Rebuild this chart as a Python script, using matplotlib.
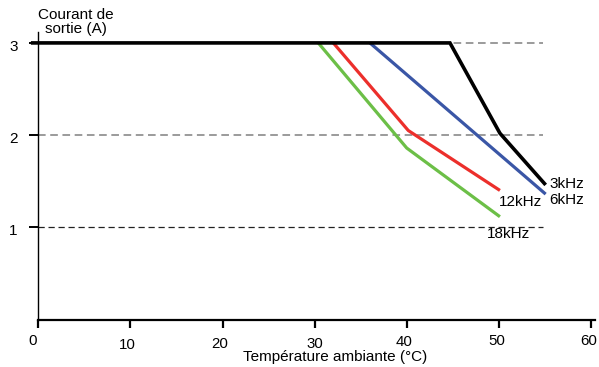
import matplotlib
matplotlib.use("Agg")
import matplotlib.pyplot as plt

plt.rcParams['font.family'] = ['Liberation Sans', 'DejaVu Sans']

# Data
series_names = ["3kHz", "6kHz", "12kHz", "18kHz"]
x_3k = [-0.8, 44.65, 50.07, 55.03]
y_3k = [3.0, 3.0, 2.02, 1.46]
x_6k = [35.97, 55.03]
y_6k = [3.0, 1.36]
x_12k = [32.0, 40.13, 50.07]
y_12k = [3.0, 2.05, 1.40]
x_18k = [30.37, 39.96, 50.07]
y_18k = [3.0, 1.86, 1.115]
x_ticks = [0, 10, 20, 30, 40, 50, 60]
x_ticklabels = ["0", "10", "20", "30", "40", "50", "60"]
y_ticks = [1, 2, 3]
y_ticklabels = ["1", "2", "3"]
ref_levels = [3, 2, 1]
ref_end = 54.74

fig = plt.figure(figsize=(5.99, 3.67), dpi=100)
ax = fig.add_axes([0.0639, 0.1294, 0.9297, 0.7838])
ax.set_xlim(0, 60.4)
ax.set_ylim(0, 3.12)

for s in ["top", "right"]:
    ax.spines[s].set_visible(False)
ax.spines["left"].set_linewidth(1.0)
ax.spines["bottom"].set_linewidth(1.6)

# reference dashed lines
ref_styles = {3: ("#808080", 1.1), 2: ("#808080", 1.1), 1: ("#222222", 0.9)}
for lvl in ref_levels:
    c, lw = ref_styles[lvl]
    ax.plot([0, ref_end], [lvl, lvl], color=c, lw=lw, dashes=(5, 3), zorder=1)

ax.plot(x_18k, y_18k, color="#6cbf47", lw=2.3, solid_capstyle="butt", zorder=2)
ax.plot(x_12k, y_12k, color="#ec2f2b", lw=2.3, solid_capstyle="butt", zorder=2)
ax.plot(x_6k, y_6k, color="#3a56a6", lw=2.3, solid_capstyle="butt", zorder=2)
ax.plot(x_3k, y_3k, color="black", lw=2.6, solid_capstyle="butt", zorder=3,
        clip_on=False, solid_joinstyle="miter")

# ticks
ax.set_xticks(x_ticks)
ax.set_xticklabels([])
ax.tick_params(axis="x", direction="out", length=6, width=1.6, color="black")
ax.set_yticks(y_ticks)
ax.set_yticklabels([])
ax.tick_params(axis="y", direction="out", length=6.5, width=1.4, color="black")

# x tick labels (staggered positions as in reference)
xl_dx = [-5.3, -2.7, -2.7, -0.1, -2.9, -2.5, -2.6]
xl_y = [340.7, 345.0, 344.3, 344.0, 341.7, 340.7, 340.7]
for t, lab, dx, yp in zip(x_ticks, x_ticklabels, xl_dx, xl_y):
    ax.annotate(lab, xy=(t, 0), xycoords="data",
                xytext=(dx * 0.72, -(yp - 319.5) * 0.72), textcoords="offset points",
                ha="center", va="center", fontsize=10.8)

# y tick labels
for t, lab in zip(y_ticks, y_ticklabels):
    ax.annotate(lab, xy=(0, t), xycoords="data",
                xytext=(-25 * 0.72, -4 * 0.72), textcoords="offset points",
                ha="center", va="center", fontsize=11)

# series labels
ax.text(55.4, 1.47, series_names[0], ha="left", va="center", fontsize=11)
ax.text(55.4, 1.30, series_names[1], ha="left", va="center", fontsize=11)
ax.text(49.97, 1.275, series_names[2], ha="left", va="center", fontsize=11)
ax.text(48.67, 0.927, series_names[3], ha="left", va="center", fontsize=11)

# axis titles
fig.text(75.5 / 599, 1 - 22 / 367, "Courant de\nsortie (A)", ha="center", va="center",
         fontsize=11, linespacing=0.98)
fig.text(335.5 / 599, 1 - 357 / 367, "Température ambiante (°C)", ha="center",
         va="center", fontsize=11)

fig.savefig("out.png", dpi=100)
